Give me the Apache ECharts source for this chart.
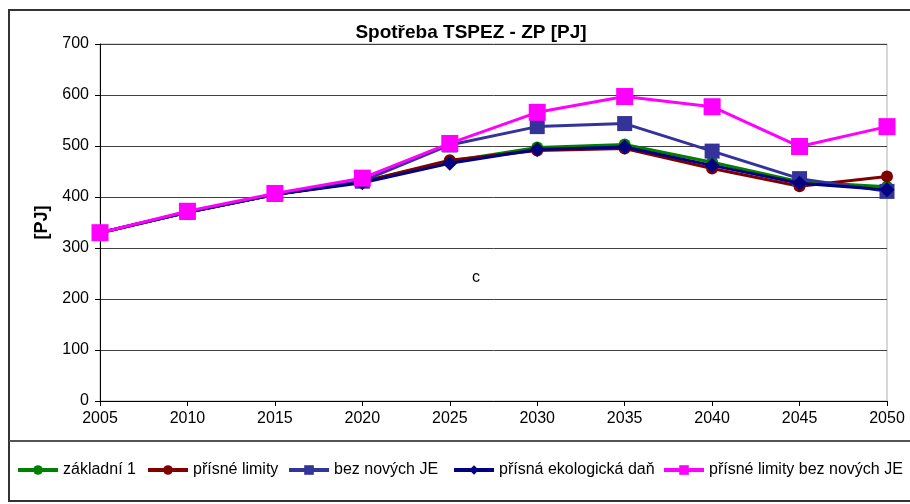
<!DOCTYPE html>
<html><head><meta charset="utf-8">
<script src="https://cdn.jsdelivr.net/npm/echarts@6/dist/echarts.min.js"></script>
<style>html,body{margin:0;padding:0;background:#fff}#c{width:910px;height:504px}</style>
</head><body><div id="c"></div>
<script>
const years = ['2005','2010','2015','2020','2025','2030','2035','2040','2045','2050'];
const yTicks = [0,100,200,300,400,500,600,700];
const seriesNames = ['základní 1','přísné limity','bez nových JE','přísná ekologická daň','přísné limity bez nových JE'];
const zakladni = [330,370,405,430,470,497,503,468,430,420];
const prisneLimity = [330,370,405,430,472,491,495,456,421,440];
const bezNovychJE = [330,370,405,431,502,538,544,490,436,411];
const ekoDan = [330,370,405,428,466,493,498,462,427,414];
const prisneBezJE = [330,372,407,437,505,566,597,577,499,538];

const colors = ['#008000','#800000','#333399','#000080','#ff00ff'];
const symbols = ['circle','circle','rect','diamond','rect'];
const sizes = [12,12,15,15,17];
const datas = [zakladni, prisneLimity, bezNovychJE, ekoDan, prisneBezJE];
const legendLeft = [16,146,287,452,662];
const font = 'Liberation Sans, Arial, sans-serif';

const chart = echarts.init(document.getElementById('c'), null, {renderer:'canvas'});
chart.setOption({
  animation:false,
  backgroundColor:'#fff',
  title:{text:'Spotřeba TSPEZ - ZP [PJ]', left:466, top:18, textAlign:'center',
    textStyle:{fontFamily:font, fontSize:19, fontWeight:'bold', color:'#000'}},
  grid:{left:100, right:23, top:44, bottom:103, show:true, borderColor:'#b0b0b0', borderWidth:1},
  legend: seriesNames.map((n,i)=>({left:legendLeft[i], top:462, padding:0, itemWidth:40, itemHeight:12, itemGap:0,
    lineStyle:{width:4},
    textStyle:{fontFamily:font, fontSize:16, color:'#000'}, data:[n]})),
  xAxis:{type:'category', data:years, boundaryGap:false,
    axisLine:{lineStyle:{color:'#000', width:1}},
    axisTick:{show:true, length:5, lineStyle:{color:'#000'}},
    axisLabel:{fontFamily:font, fontSize:16, color:'#000', margin:10},
    splitLine:{show:false}},
  yAxis:{type:'value', min:0, max:700, interval:100,
    name:'[PJ]', nameLocation:'middle', nameGap:48, nameRotate:90,
    nameTextStyle:{fontFamily:font, fontSize:18, fontWeight:'bold', color:'#000'},
    axisLine:{show:true, lineStyle:{color:'#000', width:1}},
    axisTick:{show:true, length:5, lineStyle:{color:'#000'}},
    axisLabel:{fontFamily:font, fontSize:16, color:'#000', margin:11},
    splitLine:{show:true, lineStyle:{color:'#404040', width:1}}},
  series: datas.map((d,i)=>({
    name:seriesNames[i], type:'line', data:d, symbol:symbols[i], symbolSize:sizes[i],
    showAllSymbol:true, z:2+i,
    lineStyle:{color:colors[i], width:3}, itemStyle:{color:colors[i]}
  })),
  graphic:[
    {type:'rect', shape:{x:9, y:10, width:920, height:491}, style:{fill:null, stroke:'#333', lineWidth:2}, silent:true},
    {type:'line', shape:{x1:9, y1:441, x2:910, y2:441}, style:{stroke:'#555', lineWidth:2}, silent:true},
    {type:'text', left:472, top:270, style:{text:'c', fontFamily:font, fontSize:16, fill:'#000'}}
  ]
});
</script></body></html>
